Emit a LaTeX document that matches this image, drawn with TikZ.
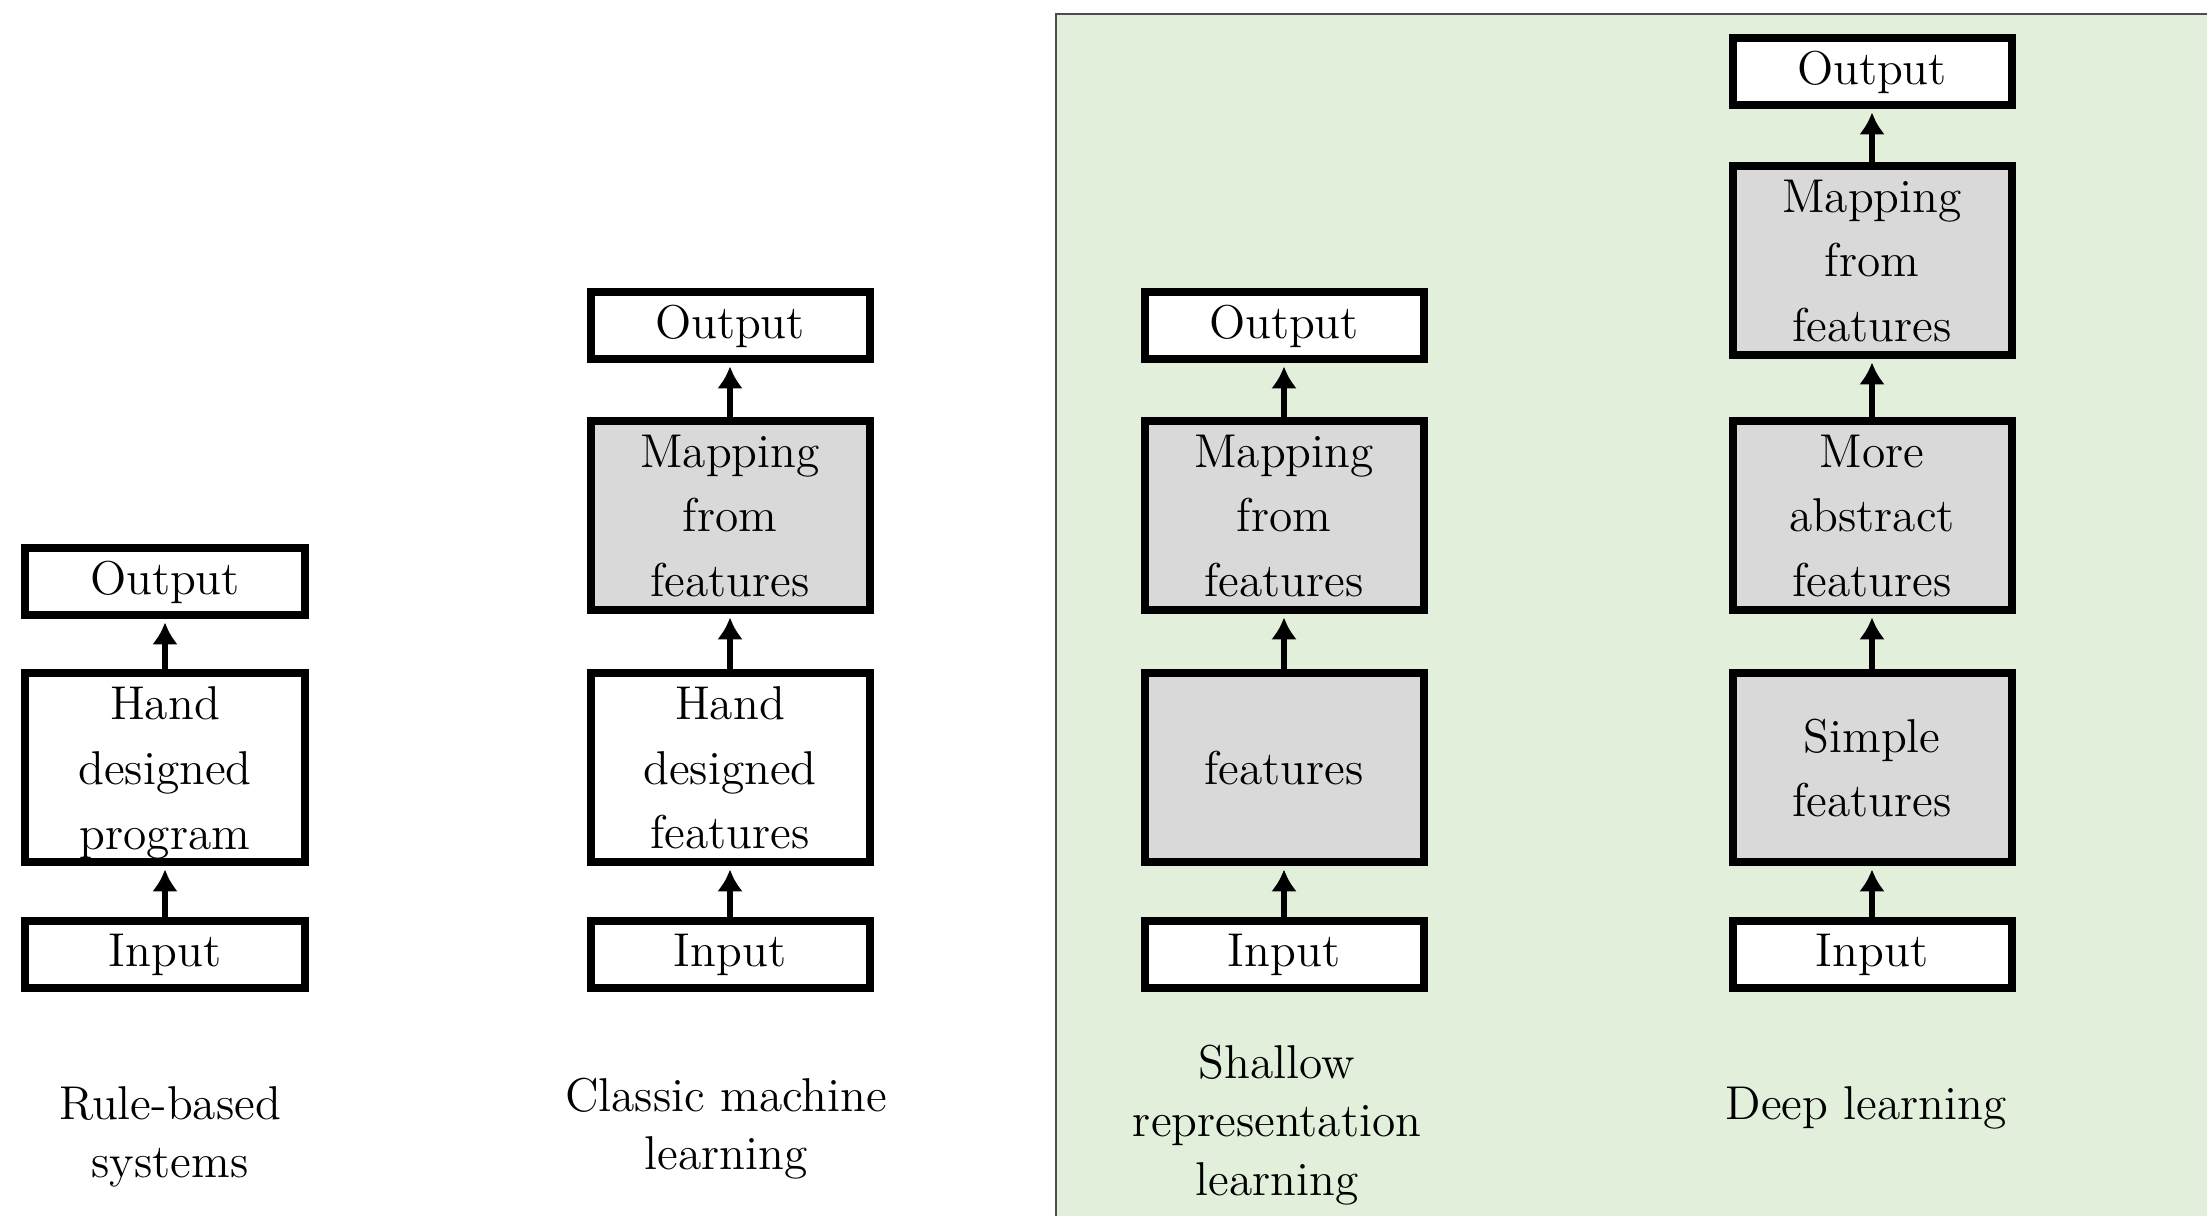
\documentclass[tikz,border=0pt]{standalone}
\usepackage{tikz}
\usetikzlibrary{arrows.meta, positioning}
\definecolor{panelgreen}{RGB}{226,239,218}
\definecolor{featgray}{RGB}{217,217,217}

\begin{document}
\begin{tikzpicture}[
    box/.style={draw, line width=0.08cm, fill=white, minimum width=2.79cm, minimum height=0.67cm,
        inner sep=0pt, align=center, font=\fontsize{13.5}{18.4}\selectfont},
    tall/.style={box, minimum height=1.89cm},
    feat/.style={tall, fill=featgray},
    lbl/.style={align=center, font=\fontsize{13.5}{16.6}\selectfont},
    arrow/.style={-{Latex[length=0.22cm,width=0.26cm]}, line width=0.065cm, shorten >=0.03cm}
]
    \clip (0,0) rectangle (22.07,12.16);
    % shaded panel
    \draw[fill=panelgreen, draw=black!70, line width=0.02cm] (10.56,-0.2) rectangle (22.4,12.02);

    % rule-based systems
    \node[box] (r0) at (1.65, 2.61) {Input};
    \node[tall] (r1) at (1.65, 4.48) {Hand\\designed\\\raisebox{0pt}[\height][0pt]{program}};
    \node[box] (r2) at (1.65, 6.34) {Output};
    \node[lbl] at (1.70, 0.79) {Rule-based\\systems};

    % classic machine learning
    \node[box] (c0) at (7.30, 2.61) {Input};
    \node[tall] (c1) at (7.30, 4.48) {Hand\\designed\\features};
    \node[feat] (c2) at (7.30, 7.00) {Mapping\\from\\features};
    \node[box] (c3) at (7.30, 8.90) {Output};
    \node[lbl] at (7.26, 0.87) {Classic machine\\learning};

    % shallow representation learning
    \node[box] (s0) at (12.84, 2.61) {Input};
    \node[feat] (s1) at (12.84, 4.48) {features};
    \node[feat] (s2) at (12.84, 7.00) {Mapping\\from\\features};
    \node[box] (s3) at (12.84, 8.90) {Output};
    \node[lbl] at (12.77, 0.91) {Shallow\\representation\\learning};

    % deep learning
    \node[box] (d0) at (18.72, 2.61) {Input};
    \node[feat] (d1) at (18.72, 4.48) {Simple\\features};
    \node[feat] (d2) at (18.72, 7.00) {More\\abstract\\features};
    \node[feat] (d3) at (18.72, 9.55) {Mapping\\from\\features};
    \node[box] (d4) at (18.72, 11.44) {Output};
    \node[lbl] at (18.66, 1.08) {Deep learning};

    % arrows
    \draw[arrow] (r0) -- (r1);
    \draw[arrow] (r1) -- (r2);
    \foreach \a/\b in {c0/c1, c1/c2, c2/c3, s0/s1, s1/s2, s2/s3, d0/d1, d1/d2, d2/d3, d3/d4}
        \draw[arrow] (\a) -- (\b);
\end{tikzpicture}
\end{document}
